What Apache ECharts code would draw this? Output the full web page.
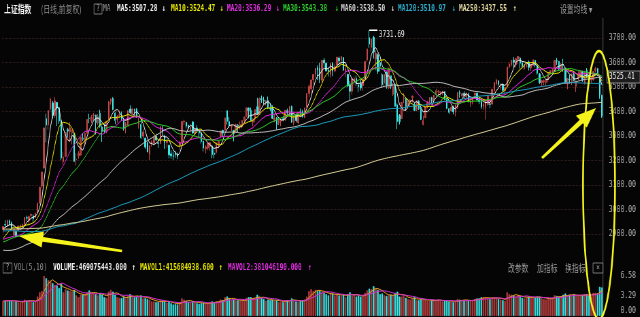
<!DOCTYPE html>
<html><head><meta charset="utf-8">
<script src="https://cdn.jsdelivr.net/npm/echarts@6/dist/echarts.min.js"></script>
<style>
html,body{margin:0;padding:0;background:#050505;overflow:hidden;width:640px;height:317px}
#wrap{width:640px;height:317px;overflow:hidden;position:relative}
#chart{width:942px;height:317px;transform:scaleX(0.68);transform-origin:0 0;position:absolute;left:0;top:0}
</style></head><body><div id="wrap"><div id="chart"></div></div>
<script>
const S = 0.68;           // horizontal squeeze of the reference screenshot
const X = x => x / S;     // reference px -> design px

// ---------- DATA ----------
const dates = [
'2020-06-05','2020-06-08','2020-06-09','2020-06-10','2020-06-11','2020-06-12','2020-06-15','2020-06-16','2020-06-17','2020-06-18','2020-06-19','2020-06-22','2020-06-23','2020-06-24','2020-06-29','2020-06-30',
'2020-07-01','2020-07-02','2020-07-03','2020-07-06','2020-07-07','2020-07-08','2020-07-09','2020-07-10','2020-07-13','2020-07-14','2020-07-15','2020-07-16','2020-07-17','2020-07-20','2020-07-21','2020-07-22','2020-07-23','2020-07-24','2020-07-27','2020-07-28','2020-07-29','2020-07-30','2020-07-31',
'2020-08-03','2020-08-04','2020-08-05','2020-08-06','2020-08-07','2020-08-10','2020-08-11','2020-08-12','2020-08-13','2020-08-14','2020-08-17','2020-08-18','2020-08-19','2020-08-20','2020-08-21','2020-08-24','2020-08-25','2020-08-26','2020-08-27','2020-08-28','2020-08-31',
'2020-09-01','2020-09-02','2020-09-03','2020-09-04','2020-09-07','2020-09-08','2020-09-09','2020-09-10','2020-09-11','2020-09-14','2020-09-15','2020-09-16','2020-09-17','2020-09-18','2020-09-21','2020-09-22','2020-09-23','2020-09-24','2020-09-25','2020-09-28','2020-09-29','2020-09-30',
'2020-10-09','2020-10-12','2020-10-13','2020-10-14','2020-10-15','2020-10-16','2020-10-19','2020-10-20','2020-10-21','2020-10-22','2020-10-23','2020-10-26','2020-10-27','2020-10-28','2020-10-29','2020-10-30',
'2020-11-02','2020-11-03','2020-11-04','2020-11-05','2020-11-06','2020-11-09','2020-11-10','2020-11-11','2020-11-12','2020-11-13','2020-11-16','2020-11-17','2020-11-18','2020-11-19','2020-11-20','2020-11-23','2020-11-24','2020-11-25','2020-11-26','2020-11-27','2020-11-30',
'2020-12-01','2020-12-02','2020-12-03','2020-12-04','2020-12-07','2020-12-08','2020-12-09','2020-12-10','2020-12-11','2020-12-14','2020-12-15','2020-12-16','2020-12-17','2020-12-18','2020-12-21','2020-12-22','2020-12-23','2020-12-24','2020-12-25','2020-12-28','2020-12-29','2020-12-30','2020-12-31',
'2021-01-04','2021-01-05','2021-01-06','2021-01-07','2021-01-08','2021-01-11','2021-01-12','2021-01-13','2021-01-14','2021-01-15','2021-01-18','2021-01-19','2021-01-20','2021-01-21','2021-01-22','2021-01-25','2021-01-26','2021-01-27','2021-01-28','2021-01-29',
'2021-02-01','2021-02-02','2021-02-03','2021-02-04','2021-02-05','2021-02-08','2021-02-09','2021-02-10','2021-02-18','2021-02-19','2021-02-22','2021-02-23','2021-02-24','2021-02-25','2021-02-26',
'2021-03-01','2021-03-02','2021-03-03','2021-03-04','2021-03-05','2021-03-08','2021-03-09','2021-03-10','2021-03-11','2021-03-12','2021-03-15','2021-03-16','2021-03-17','2021-03-18','2021-03-19','2021-03-22','2021-03-23','2021-03-24','2021-03-25','2021-03-26','2021-03-29','2021-03-30','2021-03-31',
'2021-04-01','2021-04-02','2021-04-06','2021-04-07','2021-04-08','2021-04-09','2021-04-12','2021-04-13','2021-04-14','2021-04-15','2021-04-16','2021-04-19','2021-04-20','2021-04-21','2021-04-22','2021-04-23','2021-04-26','2021-04-27','2021-04-28','2021-04-29','2021-04-30',
'2021-05-06','2021-05-07','2021-05-10','2021-05-11','2021-05-12','2021-05-13','2021-05-14','2021-05-17','2021-05-18','2021-05-19','2021-05-20','2021-05-21','2021-05-24','2021-05-25','2021-05-26','2021-05-27','2021-05-28','2021-05-31',
'2021-06-01','2021-06-02','2021-06-03','2021-06-04','2021-06-07','2021-06-08','2021-06-09','2021-06-10','2021-06-11','2021-06-15','2021-06-16','2021-06-17','2021-06-18','2021-06-21','2021-06-22','2021-06-23','2021-06-24','2021-06-25','2021-06-28','2021-06-29','2021-06-30',
'2021-07-01','2021-07-02','2021-07-05','2021-07-06','2021-07-07','2021-07-08','2021-07-09','2021-07-12','2021-07-13','2021-07-14','2021-07-15','2021-07-16','2021-07-19','2021-07-20','2021-07-21','2021-07-22','2021-07-23','2021-07-26','2021-07-27'
];

// [open, close, low, high]
const candles = [
[2918.0,2930.80,2905.0,2931.5],[2938.5,2937.77,2925.9,2956.6],[2935.0,2956.11,2928.0,2956.3],[2954.4,2943.75,2936.0,2958.8],[2945.6,2920.90,2915.6,2951.1],[2896.0,2919.74,2891.6,2921.9],[2910.4,2890.03,2889.0,2920.4],[2913.8,2931.75,2913.8,2934.5],[2932.0,2935.87,2919.6,2937.9],[2929.7,2939.32,2920.3,2943.2],[2940.7,2967.63,2933.2,2968.2],[2965.9,2965.27,2954.0,2975.1],[2955.0,2970.62,2934.6,2974.5],[2976.0,2979.55,2969.0,2984.0],[2973.0,2961.52,2949.6,2980.1],[2967.4,2984.67,2967.4,2986.8],
[2991.1,3025.98,2984.0,3026.0],[3026.6,3090.57,3022.0,3091.3],[3095.7,3152.81,3088.0,3152.8],[3169.0,3332.88,3168.6,3333.2],[3370.0,3345.34,3274.0,3390.7],[3345.0,3403.44,3324.6,3404.4],[3410.6,3450.59,3396.7,3456.97],[3435.0,3383.32,3371.0,3443.0],[3384.0,3443.29,3374.0,3458.8],[3436.8,3414.62,3341.0,3439.0],[3415.0,3361.30,3349.0,3419.0],[3362.0,3210.10,3201.0,3372.9],[3195.0,3214.13,3183.7,3236.0],[3217.0,3314.15,3216.3,3315.4],[3325.3,3320.90,3294.0,3333.1],[3317.0,3333.16,3277.0,3356.0],[3313.0,3325.11,3266.0,3326.0],[3307.0,3196.77,3196.0,3316.0],[3203.0,3205.23,3180.0,3229.0],[3219.0,3227.96,3207.0,3238.0],[3222.0,3294.55,3222.0,3294.8],[3291.0,3286.82,3280.0,3312.0],[3284.0,3310.01,3263.0,3314.0],
[3311.0,3367.97,3311.0,3368.0],[3372.0,3371.69,3352.0,3391.0],[3362.0,3377.56,3352.0,3385.0],[3382.0,3386.46,3362.0,3394.0],[3386.0,3354.04,3306.0,3386.0],[3354.0,3379.25,3346.0,3389.0],[3393.0,3340.29,3334.0,3407.0],[3337.0,3319.27,3276.0,3343.0],[3322.0,3320.73,3311.0,3349.0],[3317.0,3360.10,3311.0,3361.0],[3367.0,3438.80,3366.0,3443.0],[3440.0,3451.09,3428.0,3453.0],[3454.0,3408.13,3405.0,3458.0],[3393.0,3363.90,3348.0,3397.0],[3368.0,3380.68,3355.0,3384.0],[3385.0,3385.64,3373.0,3404.0],[3383.0,3373.58,3362.0,3400.0],[3368.0,3329.74,3322.0,3375.0],[3337.0,3350.11,3311.0,3357.0],[3343.0,3403.81,3337.0,3404.0],[3410.0,3395.68,3390.0,3425.0],
[3388.0,3410.61,3386.0,3412.0],[3409.0,3404.80,3382.0,3411.0],[3409.0,3384.98,3374.0,3414.0],[3348.0,3355.37,3330.0,3374.0],[3347.0,3292.59,3289.0,3376.0],[3300.0,3316.42,3286.0,3328.0],[3291.0,3254.63,3247.0,3293.0],[3272.0,3234.82,3234.0,3278.0],[3225.0,3260.35,3202.0,3261.0],[3270.0,3278.81,3257.0,3282.0],[3271.0,3295.68,3262.0,3298.0],[3298.0,3283.92,3281.0,3310.0],[3271.0,3270.44,3251.0,3286.0],[3269.0,3338.09,3268.0,3339.0],[3331.0,3316.94,3302.0,3342.0],[3298.0,3274.30,3247.0,3305.0],[3274.0,3279.71,3252.0,3284.0],[3262.0,3223.18,3209.0,3263.0],[3227.0,3219.42,3207.0,3242.0],[3219.0,3217.53,3202.0,3237.0],[3229.0,3224.36,3211.0,3239.0],[3226.0,3218.05,3205.0,3232.0],
[3262.0,3272.08,3244.0,3280.0],[3274.0,3358.47,3271.0,3359.0],[3358.0,3359.75,3345.0,3367.0],[3356.0,3340.54,3330.0,3357.0],[3343.0,3332.18,3325.0,3347.0],[3327.0,3336.36,3314.0,3340.0],[3357.0,3312.50,3309.0,3361.0],[3310.0,3328.10,3306.0,3330.0],[3332.0,3325.03,3314.0,3344.0],[3318.0,3312.16,3293.0,3326.0],[3313.0,3278.00,3269.0,3314.0],[3279.0,3251.12,3237.0,3279.0],[3248.0,3254.32,3229.0,3262.0],[3251.0,3269.24,3242.0,3270.0],[3258.0,3272.74,3240.0,3273.0],[3259.0,3224.53,3209.0,3264.0],
[3230.0,3225.12,3209.0,3248.0],[3233.0,3271.07,3224.0,3276.0],[3266.0,3277.44,3250.0,3278.0],[3301.0,3320.13,3293.0,3320.5],[3323.0,3312.16,3295.0,3325.0],[3323.0,3373.73,3323.0,3374.0],[3403.0,3360.15,3347.0,3403.0],[3359.0,3342.20,3334.0,3378.0],[3338.0,3338.68,3320.0,3347.0],[3322.0,3310.10,3278.0,3325.0],[3315.0,3346.97,3312.0,3350.0],[3344.0,3339.90,3316.0,3349.0],[3339.0,3347.30,3327.0,3359.0],[3338.0,3363.09,3332.0,3363.5],[3363.0,3377.73,3352.0,3378.0],[3382.0,3414.49,3378.0,3414.8],[3414.0,3402.82,3372.0,3416.0],[3405.0,3362.33,3362.0,3416.0],[3356.0,3369.73,3340.0,3372.0],[3370.0,3408.31,3356.0,3409.0],[3419.0,3391.76,3388.0,3456.0],
[3388.0,3451.94,3386.0,3457.0],[3452.0,3449.38,3435.0,3465.0],[3447.0,3442.14,3428.0,3460.0],[3433.0,3444.58,3425.0,3446.0],[3445.0,3416.60,3410.0,3461.0],[3413.0,3410.18,3401.0,3434.0],[3412.0,3371.96,3371.0,3425.0],[3364.0,3373.28,3356.0,3390.0],[3374.0,3347.19,3325.0,3377.0],[3353.0,3369.12,3344.0,3372.0],[3360.0,3367.23,3340.0,3368.0],[3370.0,3366.98,3360.0,3383.0],[3367.0,3404.87,3361.0,3406.0],[3403.0,3394.90,3384.0,3412.0],[3393.0,3420.57,3378.0,3421.0],[3421.0,3356.78,3354.0,3424.0],[3354.0,3382.32,3344.0,3383.0],[3385.0,3363.11,3355.0,3394.0],[3355.0,3396.56,3348.0,3397.0],[3398.0,3397.29,3383.0,3412.0],[3400.0,3379.04,3375.0,3407.0],[3375.0,3414.45,3374.0,3415.0],[3419.0,3473.07,3416.0,3474.0],
[3474.0,3502.96,3457.0,3511.0],[3493.0,3528.68,3475.0,3528.9],[3530.0,3550.88,3511.0,3551.0],[3552.0,3576.20,3538.0,3576.6],[3577.0,3570.11,3528.0,3588.0],[3576.0,3531.50,3516.0,3599.0],[3528.0,3608.34,3516.0,3608.6],[3609.0,3598.65,3581.0,3619.0],[3597.0,3565.90,3563.0,3600.0],[3568.0,3566.38,3543.0,3581.0],[3552.0,3596.22,3539.0,3597.0],[3597.0,3566.12,3544.0,3601.0],[3566.0,3583.09,3560.0,3595.0],[3590.0,3621.26,3584.0,3623.0],[3618.0,3606.75,3588.0,3624.0],[3609.0,3624.24,3593.0,3627.0],[3620.0,3569.43,3565.0,3621.0],[3567.0,3573.34,3540.0,3593.0],[3551.0,3505.18,3500.0,3555.0],[3510.0,3483.07,3446.0,3525.0],
[3483.0,3533.68,3468.0,3534.0],[3521.0,3533.93,3506.0,3543.0],[3535.0,3517.31,3503.0,3547.0],[3508.0,3501.86,3479.0,3519.0],[3512.0,3496.33,3486.0,3530.0],[3506.0,3532.44,3484.0,3533.0],[3534.0,3603.49,3534.0,3604.0],[3610.0,3655.09,3603.0,3656.0],[3701.0,3675.36,3660.0,3731.69],[3662.0,3696.17,3644.0,3697.0],[3702.0,3642.44,3616.0,3709.0],[3614.0,3636.36,3568.0,3650.0],[3632.0,3564.08,3553.0,3637.0],[3599.0,3585.05,3563.0,3606.0],[3550.0,3509.08,3496.0,3556.0],
[3516.0,3551.40,3504.0,3552.0],[3560.0,3508.59,3493.0,3564.0],[3497.0,3576.90,3491.0,3577.0],[3546.0,3503.49,3492.0,3547.0],[3470.0,3501.99,3463.0,3516.0],[3510.0,3421.41,3421.0,3515.0],[3427.0,3359.29,3328.0,3433.0],[3384.0,3357.74,3347.0,3390.0],[3371.0,3436.83,3370.0,3438.0],[3452.0,3453.08,3434.0,3474.0],[3454.0,3419.95,3403.0,3459.0],[3424.0,3446.73,3411.0,3447.0],[3439.0,3445.55,3420.0,3450.0],[3456.0,3463.07,3437.0,3464.0],[3429.0,3404.66,3402.0,3435.0],[3408.0,3443.44,3401.0,3444.0],[3442.0,3411.51,3406.0,3446.0],[3409.0,3367.06,3365.0,3419.0],[3347.0,3363.59,3343.0,3383.0],[3375.0,3418.33,3375.0,3419.0],[3422.0,3435.30,3413.0,3444.0],[3433.0,3457.07,3424.0,3458.0],[3456.0,3441.91,3434.0,3460.0],
[3445.0,3466.33,3436.0,3467.0],[3471.0,3484.39,3462.0,3493.0],[3481.0,3482.48,3466.0,3487.0],[3478.0,3479.63,3465.0,3481.0],[3476.0,3482.55,3466.0,3485.0],[3481.0,3450.68,3446.0,3481.5],[3453.0,3412.95,3410.0,3455.0],[3411.0,3396.47,3390.0,3414.0],[3402.0,3416.79,3399.0,3423.0],[3418.0,3398.99,3388.0,3424.0],[3397.0,3426.62,3380.0,3427.0],[3417.0,3477.55,3411.0,3478.0],[3478.0,3472.94,3456.0,3486.0],[3464.0,3472.44,3456.0,3477.0],[3474.0,3465.11,3451.0,3483.0],[3461.0,3474.17,3453.0,3478.0],[3470.0,3441.17,3437.0,3477.0],[3434.0,3442.61,3419.0,3444.0],[3440.0,3457.07,3429.0,3458.0],[3467.0,3474.90,3455.0,3475.5],[3474.0,3446.86,3446.0,3479.0],
[3446.0,3441.28,3430.0,3457.0],[3441.0,3418.87,3410.0,3449.0],[3422.0,3427.99,3407.0,3436.0],[3417.0,3441.85,3367.0,3446.0],[3429.0,3462.75,3423.0,3463.0],[3431.0,3429.54,3414.0,3443.0],[3431.0,3490.38,3428.0,3490.6],[3486.0,3517.62,3476.0,3521.0],[3513.0,3529.01,3507.0,3534.0],[3524.0,3510.96,3503.0,3529.0],[3506.0,3506.94,3488.0,3514.0],[3509.0,3486.56,3480.0,3515.0],[3486.0,3497.28,3467.0,3499.0],[3500.0,3581.34,3496.0,3582.0],[3582.0,3593.36,3576.0,3600.0],[3590.0,3608.85,3582.0,3611.0],[3609.0,3600.78,3581.0,3622.0],[3591.0,3615.48,3580.0,3616.0],
[3614.0,3624.71,3594.0,3626.0],[3618.0,3597.14,3575.0,3623.0],[3599.0,3584.22,3578.0,3603.0],[3575.0,3591.84,3569.0,3594.0],[3597.0,3599.54,3580.0,3602.0],[3601.0,3580.11,3567.0,3608.0],[3578.0,3591.40,3566.0,3595.0],[3588.0,3610.86,3585.0,3611.0],[3608.0,3589.75,3581.0,3611.0],[3587.0,3556.56,3551.0,3590.0],[3553.0,3518.33,3512.0,3557.0],[3518.0,3525.10,3500.0,3530.0],[3520.0,3525.60,3506.0,3531.0],[3518.0,3529.18,3502.0,3531.0],[3529.0,3557.41,3519.0,3558.0],[3556.0,3566.65,3549.0,3567.0],[3563.0,3566.22,3552.0,3574.0],[3565.0,3607.56,3563.0,3608.0],[3607.0,3606.37,3590.0,3619.0],[3605.0,3573.18,3567.0,3606.0],[3575.0,3591.20,3570.0,3598.0],
[3592.0,3588.78,3562.0,3615.0],[3576.0,3518.76,3515.0,3579.0],[3512.0,3534.32,3491.0,3536.0],[3532.0,3530.26,3514.0,3550.0],[3523.0,3553.72,3508.0,3554.0],[3553.0,3525.50,3524.0,3562.0],[3503.0,3524.09,3480.0,3526.0],[3535.0,3547.84,3528.0,3565.0],[3547.0,3566.42,3538.0,3567.0],[3564.0,3528.50,3521.0,3566.0],[3515.0,3564.59,3510.0,3565.0],[3568.0,3539.30,3536.0,3577.0],[3540.0,3539.12,3518.0,3549.0],[3530.0,3536.79,3517.0,3540.0],[3530.0,3562.87,3526.0,3564.0],[3568.0,3574.73,3560.0,3582.0],[3575.0,3550.40,3545.0,3578.0],[3544.0,3467.44,3452.0,3544.0],[3466.0,3381.18,3374.0,3468.0]
];

// volume, in units of 1e8 (matches the 0.00 / 3.29 / 6.58 axis)
const volumes = [
2.45,2.50,2.60,2.55,2.45,2.35,2.40,2.30,2.20,2.35,2.70,2.55,2.60,2.40,2.30,2.35,
3.20,3.90,4.10,6.58,6.20,5.90,5.75,5.40,5.10,5.00,4.60,5.30,3.90,4.40,4.20,4.10,4.00,4.30,3.40,3.10,3.50,3.55,3.65,
3.90,4.20,3.80,3.70,3.60,3.40,3.80,3.50,3.10,3.00,4.00,4.30,4.00,3.50,3.10,3.00,2.95,3.20,2.90,3.30,3.60,
3.30,3.10,3.20,3.10,3.40,2.90,2.95,2.80,2.70,2.40,2.40,2.30,2.30,2.60,2.50,2.35,2.20,2.40,2.10,1.90,1.95,1.90,
2.20,2.90,2.70,2.50,2.30,2.20,2.40,2.30,2.10,2.00,2.10,2.20,2.00,2.10,2.20,2.40,
2.30,2.40,2.40,2.70,2.60,3.10,3.20,2.90,2.60,2.70,2.60,2.60,2.50,2.50,2.50,3.00,3.10,3.10,2.70,2.90,3.50,
3.20,3.00,2.80,2.50,2.70,2.60,2.70,2.50,2.60,2.30,2.30,2.30,2.60,2.60,2.60,2.90,2.50,2.40,2.30,2.50,2.60,2.70,3.20,
4.10,4.40,4.10,4.30,4.10,4.20,3.90,3.80,3.60,3.40,3.70,3.70,3.40,3.50,3.40,3.40,3.60,3.10,3.60,3.90,
3.40,3.50,3.20,3.40,3.20,3.30,3.80,4.20,4.50,4.40,4.90,4.50,4.30,3.60,3.70,
3.40,3.30,3.40,3.50,3.40,3.80,4.00,3.20,3.20,3.30,3.00,2.80,2.70,2.90,3.10,2.60,2.60,2.80,2.70,2.60,2.50,2.50,2.60,
2.60,2.60,2.70,2.50,2.40,2.50,2.60,2.40,2.40,2.30,2.40,2.80,2.70,2.60,2.60,2.50,2.60,2.50,2.60,2.80,2.90,
2.90,3.10,3.10,3.00,2.90,2.80,3.00,3.10,3.00,2.80,2.70,2.60,2.50,3.90,3.60,3.50,3.40,3.20,
3.40,3.20,3.00,2.90,3.10,3.20,3.00,3.10,3.00,3.20,3.20,2.90,2.80,2.70,2.90,2.90,3.00,3.40,3.30,3.20,3.10,
3.50,3.70,3.40,3.50,3.30,3.60,3.40,3.30,3.40,3.40,3.60,3.60,3.40,3.30,3.80,3.80,3.70,4.80,4.69
];

// closes before the first visible day (needed for the long moving averages)
const preCloses = [
2914.70,2905.81,2898.70,
2890.08,2861.42,2861.84,2827.80,2852.13,2925.72,2909.38,2910.74,2881.97,2887.62,2890.16,2917.80,2987.12,3001.98,3008.15,2982.07,2976.28,2996.79,2978.88,
3044.90,3043.94,3015.26,3005.25,3011.06,2933.36,2928.23,2915.30,2917.76,2930.55,2942.19,2937.62,2931.69,2901.95,2924.20,2886.97,2899.94,2923.28,2937.36,2944.54,2941.01,2952.34,2932.51,
2908.77,2867.84,2821.50,2777.56,2768.68,2794.55,2774.75,2814.99,2797.26,2808.91,2815.80,2823.82,2883.10,2880.00,2880.33,2883.44,2897.43,2863.57,2902.19,2893.76,2890.92,2886.24,
2924.11,2930.15,2957.41,2985.86,2999.60,3024.74,3021.20,3008.81,3031.24,3030.75,2978.12,2985.34,2999.28,3006.45,2977.08,2985.34,2955.43,2929.09,2932.17,2905.19,
2913.57,2924.86,2947.71,2973.66,3007.88,2991.05,2978.71,2977.33,2938.14,2939.62,2954.38,2941.62,2940.92,2954.93,2980.05,2954.18,2939.32,2929.06,
2958.20,2975.49,2991.56,2978.60,2978.71,2964.18,2909.97,2914.82,2905.24,2909.87,2891.34,2909.20,2933.99,2911.05,2903.64,2885.29,2906.17,2907.06,2903.19,2889.69,2871.98,
2875.81,2884.70,2878.12,2899.47,2912.01,2914.48,2917.32,2924.42,2915.70,2967.68,2984.39,3022.42,3017.04,3017.07,3004.94,2962.75,2982.68,2981.88,3007.35,3005.04,3040.02,3050.12,
3085.20,3083.79,3083.41,3104.80,3066.89,3094.88,3092.29,3115.57,3106.82,3090.04,3074.08,3075.50,3095.79,3052.14,3060.75,2976.53,
2746.61,2783.29,2818.09,2866.51,2875.96,2890.49,2901.67,2926.90,2906.07,2917.01,2983.62,2984.97,2975.40,3030.15,3039.67,3031.23,3013.05,2987.93,2991.33,2880.30,
2970.93,2992.90,3011.67,3071.68,3034.51,2943.29,2996.76,2968.52,2923.49,2887.43,2789.25,2779.64,2728.76,2702.13,2745.62,2660.17,2722.44,2781.59,2764.91,2772.20,2747.21,2750.30,
2734.52,2780.64,2763.99,2820.76,2815.37,2825.90,2796.63,2783.05,2827.28,2811.17,2819.94,2838.49,2852.55,2827.01,2843.98,2838.50,2808.53,2815.49,2810.02,2822.44,2860.08,
2878.14,2871.52,2895.34,2894.80,2891.56,2898.05,2870.34,2868.46,2875.42,2898.58,2883.74,2867.92,2813.77,2817.97,2846.55,2836.80,2846.22,2852.35,
2915.43,2921.40,2923.37,2919.25
];

const maDefs = [
  {n:5,   color:'#ececec'},
  {n:10,  color:'#e6e600'},
  {n:20,  color:'#e028e0'},
  {n:30,  color:'#2cc82c'},
  {n:60,  color:'#bdbdbd'},
  {n:120, color:'#1c9cbc'},
  {n:250, color:'#d8cf98'}
];
const yTicks = {min:2800, max:3800, step:100};
const volTicks = {min:0, max:6.58, step:3.29};

// ---------- derived ----------
const closes = candles.map(c => c[1]);
const allCloses = preCloses.concat(closes);
const off = preCloses.length;
function ma(n) {
  return closes.map((c, i) => {
    const end = off + i, start = Math.max(0, end - n + 1);
    let s = 0; for (let k = start; k <= end; k++) s += allCloses[k];
    return +(s / (end - start + 1)).toFixed(2);
  });
}
function vma(n) {
  return volumes.map((v, i) => {
    const a = volumes.slice(Math.max(0, i - n + 1), i + 1);
    return +(a.reduce((p, q) => p + q, 0) / a.length).toFixed(3);
  });
}

const UP = '#a83636', UPB = '#c44646', DN = '#3ee6e6';
const FM = "bold 9px 'DejaVu Sans Mono'";
const FMn = "9px 'DejaVu Sans Mono'";
const FC = "10px 'Noto Sans CJK SC'";
const YEL = '#f4f41c';

const chart = echarts.init(document.getElementById('chart'), null, {renderer:'canvas'});

// ---------- annotation helpers (reference px -> design px) ----------
function txt(x, y, t, color, font) {
  return {type:'text', x:X(x), y:y, z:100, silent:true,
    style:{text:t, fill:color, font:font||FM, verticalAlign:'middle', textVerticalAlign:'middle'}};
}
function box(x, y, w, h, t) {
  return [
    {type:'rect', shape:{x:X(x), y:y, width:X(w), height:h}, style:{fill:'none', stroke:'#7a7a7a', lineWidth:1}, z:100, silent:true},
    {type:'text', x:X(x + w/2), y:y + h/2, z:100, silent:true,
      style:{text:t, fill:'#a0a0a0', font:FMn, align:'center', textAlign:'center', verticalAlign:'middle', textVerticalAlign:'middle'}}
  ];
}
function arrow(tx, ty, bx, by, headLen, headHalf, sTip, sTail) {
  const dx = tx - bx, dy = ty - by, L = Math.hypot(dx, dy), ux = dx/L, uy = dy/L, nx = -uy, ny = ux;
  const hx = tx - ux*headLen, hy = ty - uy*headLen;
  const p = [[tx,ty],[hx+nx*headHalf,hy+ny*headHalf],[hx+nx*sTip,hy+ny*sTip],[bx+nx*sTail,by+ny*sTail],
             [bx-nx*sTail,by-ny*sTail],[hx-nx*sTip,hy-ny*sTip],[hx-nx*headHalf,hy-ny*headHalf]];
  return {type:'polygon', shape:{points:p.map(q => [X(q[0]), q[1]])}, style:{fill:YEL}, z:200, silent:true};
}
function ellipse(cx, cy, rx, ry) {
  const pts = [];
  for (let k = 0; k < 96; k++) { const t = k/96*Math.PI*2; pts.push([X(cx + rx*Math.cos(t)), cy + ry*Math.sin(t)]); }
  return {type:'polygon', shape:{points:pts}, style:{fill:'none', stroke:YEL, lineWidth:2.6}, z:200, silent:true};
}

const graphics = [
  // header
  txt(4, 9, '上证指数', '#f2f2f2', "bold 10px 'Noto Sans CJK SC'"),
  txt(41, 9, '(日线,前复权)', '#8e8e8e', FC),
  ...box(94, 4, 8, 10, '?'),
  txt(103, 9, 'MA', '#9a9a9a', FMn),
  txt(117, 9, 'MA5:3507.28', '#f0f0f0'),   txt(162, 9, '↓', '#f0f0f0'),
  txt(171, 9, 'MA10:3524.47', '#e8e800'),  txt(220, 9, '↓', '#e8e800'),
  txt(227, 9, 'MA20:3536.29', '#e030e0'),  txt(276, 9, '↓', '#e030e0'),
  txt(283, 9, 'MA30:3543.38', '#30d030'),  txt(335, 9, '↓', '#30d030'),
  txt(341, 9, 'MA60:3538.50', '#cfcfcf'),  txt(391, 9, '↓', '#cfcfcf'),
  txt(398, 9, 'MA120:3510.97', '#2eb0d2'), txt(452, 9, '↓', '#2eb0d2'),
  txt(459, 9, 'MA250:3437.55', '#e2daa2'), txt(513, 9, '↑', '#e2daa2'),
  txt(560, 9, '设置均线 ▾', '#9c9c9c', FC),
  // volume header
  ...box(3, 263, 9, 10, '?'),
  txt(14, 268, 'VOL(5,10)', '#8e8e8e', FMn),
  txt(53, 268, 'VOLUME:469075443.000', '#f0f0f0'), txt(132, 268, '↑', '#f0f0f0'),
  txt(140, 268, 'MAVOL1:415684938.600', '#e8e800'), txt(219, 268, '↑', '#e8e800'),
  txt(228, 268, 'MAVOL2:381046190.000', '#e030e0'), txt(308, 268, '↑', '#e030e0'),
  txt(508, 268, '改参数', '#9c9c9c', FC),
  txt(537, 268, '加指标', '#9c9c9c', FC),
  txt(565, 268, '换指标', '#9c9c9c', FC),
  ...box(593, 263, 10, 10, '×'),
  // right divider
  {type:'line', shape:{x1:X(603), y1:18, x2:X(603), y2:317}, style:{stroke:'#5a5a5a', lineWidth:1}, z:50, silent:true},
  // current price tag
  {type:'rect', shape:{x:X(607), y:71, width:X(33), height:12}, style:{fill:'#1c1c1c', stroke:'#8a8a8a', lineWidth:1}, z:60, silent:true},
  txt(609, 77, '3525.41', '#f0f0f0', FMn),
  // hand-drawn yellow marks
  arrow(19, 236, 122, 251, 24, 8, 2.4, 1.3),
  arrow(596, 108, 542, 158, 20, 8, 2.4, 1.2),
  ellipse(599, 185, 16, 134)
];

const series = [{
  type:'candlestick', name:'上证指数', xAxisIndex:0, yAxisIndex:0, data:candles, barWidth:'62%', z:3,
  itemStyle:{color:UP, color0:DN, borderColor:UPB, borderColor0:DN, borderWidth:1},
  markPoint:{
    symbol:'rect', symbolSize:[12, 1.5], symbolOffset:['50%', 0], silent:true, animation:false,
    itemStyle:{color:'#ffffff'},
    label:{show:true, position:'right', distance:2, offset:[0, 4], color:'#e8e8e8',
      fontFamily:'DejaVu Sans Mono', fontSize:9,
      formatter: p => Number(p.value).toFixed(2)},
    data:[{type:'max', valueDim:'highest'}]
  }
}];
maDefs.forEach(d => series.push({
  type:'line', name:'MA' + d.n, xAxisIndex:0, yAxisIndex:0, data:ma(d.n), symbol:'none', showSymbol:false,
  lineStyle:{width:1, color:d.color}, silent:true, z:4
}));
series.push({
  type:'bar', name:'VOL', xAxisIndex:1, yAxisIndex:1, barWidth:'74%',
  data: volumes.map((v, i) => ({value:v, itemStyle:{color: candles[i][1] >= candles[i][0] ? UP : DN,
                                                      borderColor: candles[i][1] >= candles[i][0] ? UPB : DN, borderWidth:0.6}}))
});
series.push({type:'line', name:'MAVOL1', xAxisIndex:1, yAxisIndex:1, data:vma(5), symbol:'none', lineStyle:{width:1, color:'#e8a020'}, silent:true, z:5});
series.push({type:'line', name:'MAVOL2', xAxisIndex:1, yAxisIndex:1, data:vma(10), symbol:'none', lineStyle:{width:1, color:'#d030d0'}, silent:true, z:5});

const gridL = X(2), gridR = 942 - X(603);
chart.setOption({
  backgroundColor:'#050505',
  animation:false,
  grid:[
    {left:gridL, right:gridR, top:13.5, height:245},
    {left:gridL, right:gridR, top:276, height:40}
  ],
  xAxis:[
    {type:'category', data:dates, gridIndex:0, boundaryGap:true, axisLine:{show:false}, axisTick:{show:false}, axisLabel:{show:false}, splitLine:{show:false}},
    {type:'category', data:dates, gridIndex:1, boundaryGap:true, axisLine:{show:false}, axisTick:{show:false}, axisLabel:{show:false}, splitLine:{show:false}}
  ],
  yAxis:[
    {type:'value', gridIndex:0, position:'right', min:yTicks.min, max:yTicks.max, interval:yTicks.step, scale:false,
     axisLine:{show:false}, axisTick:{show:false},
     axisLabel:{show:true, align:'right', margin:X(636) - X(603), color:'#b0b0b0', fontFamily:'DejaVu Sans Mono', fontSize:9.5,
                showMinLabel:false, showMaxLabel:false, formatter: v => v.toFixed(2)},
     splitLine:{show:true, showMinLine:false, showMaxLine:false, lineStyle:{color:'#3a2020', type:'dotted', width:1}}},
    {type:'value', gridIndex:1, position:'right', min:volTicks.min, max:volTicks.max, interval:volTicks.step,
     axisLine:{show:false}, axisTick:{show:false},
     axisLabel:{show:true, align:'right', margin:X(636) - X(603), color:'#b0b0b0', fontFamily:'DejaVu Sans Mono', fontSize:9.5,
                verticalAlignMinLabel:'bottom', formatter: v => v.toFixed(2)},
     splitLine:{show:false}}
  ],
  graphic:{elements:graphics},
  series:series
});
</script>
</body></html>
